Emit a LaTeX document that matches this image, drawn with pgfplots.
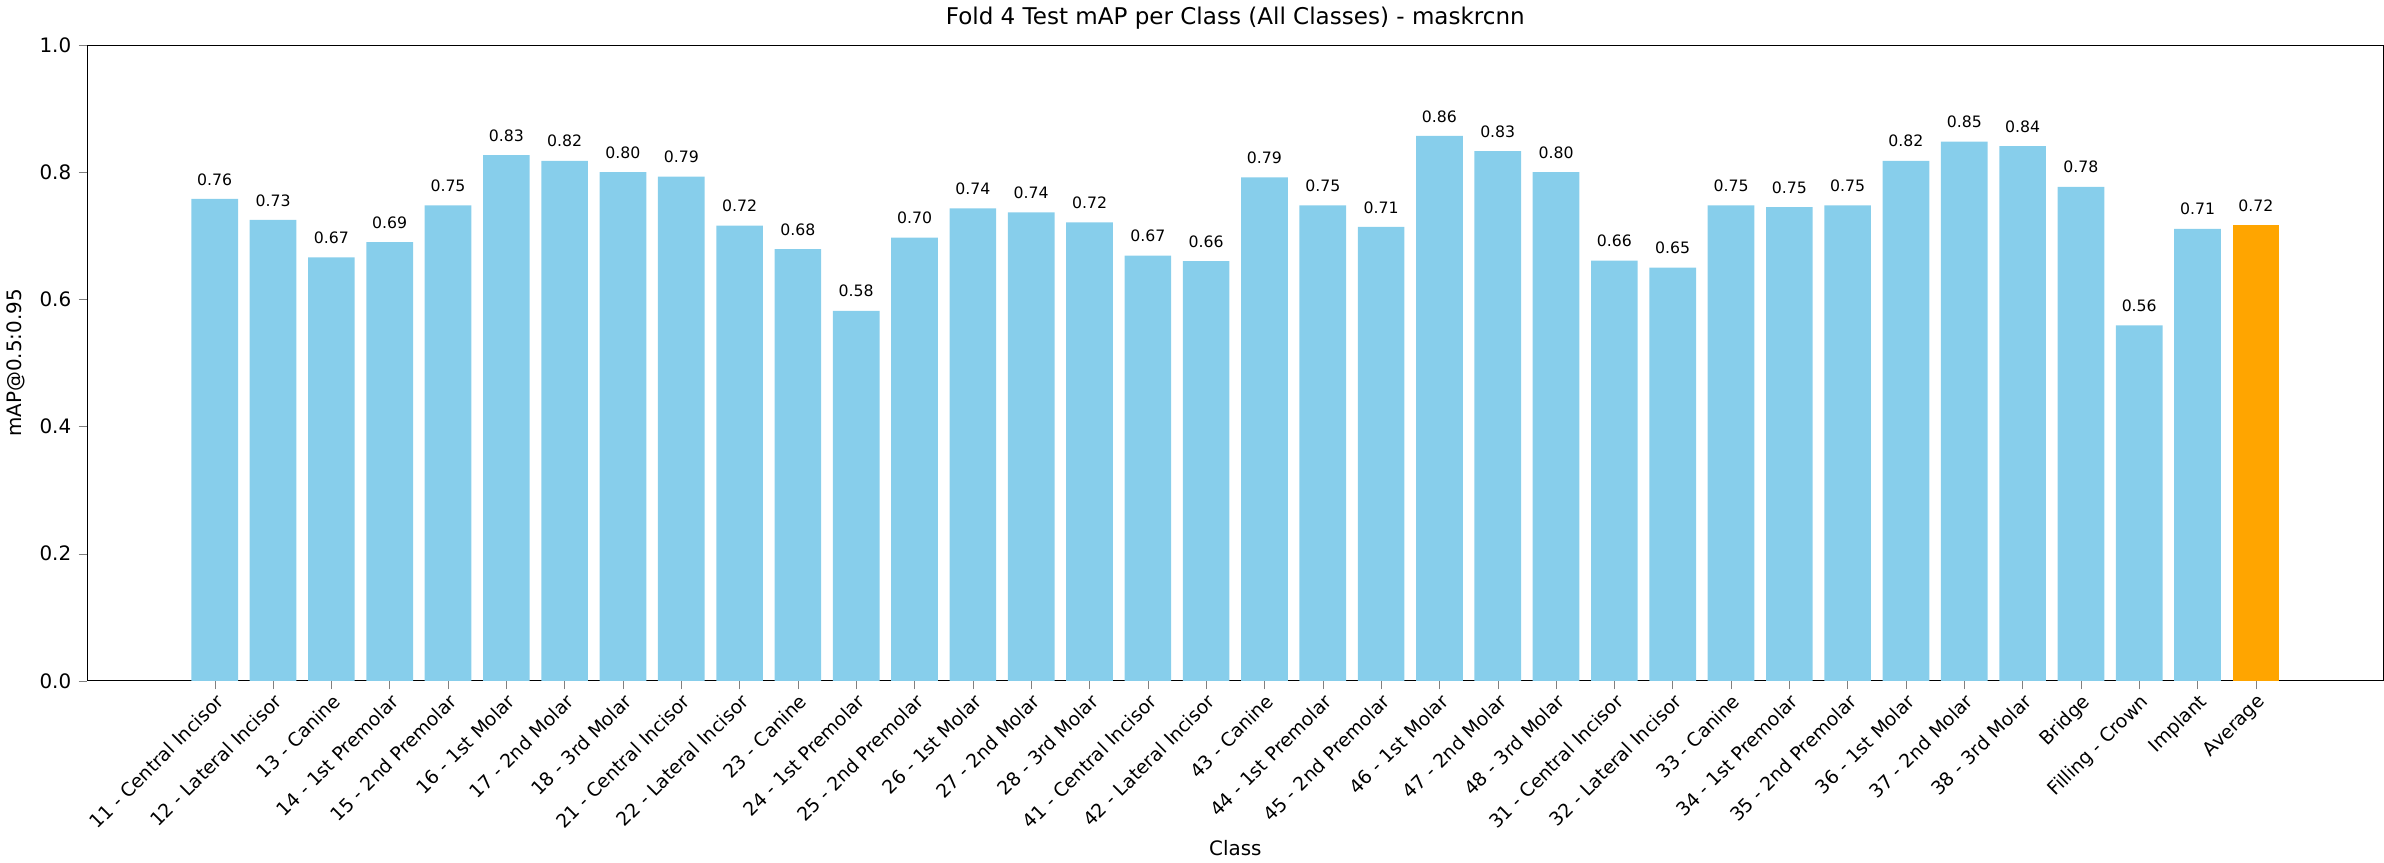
\documentclass[border=0pt]{standalone}
\usepackage{pgfplots}
\pgfplotsset{compat=1.18}
\usepackage{pgfplotstable}
\usepackage{fontspec}
\setmainfont{DejaVu Sans}
\definecolor{sky}{HTML}{87CEEB}
\definecolor{orng}{HTML}{FFA500}
\pgfplotstableread{
x y
0 0.758
1 0.725
2 0.666
3 0.690
4 0.748
5 0.827
6 0.818
7 0.800
8 0.793
9 0.716
10 0.679
11 0.582
12 0.697
13 0.743
14 0.737
15 0.721
16 0.669
17 0.660
18 0.792
19 0.748
20 0.714
21 0.857
22 0.833
23 0.800
24 0.661
25 0.650
26 0.748
27 0.745
28 0.748
29 0.818
30 0.848
31 0.841
32 0.777
33 0.559
34 0.711
}\data
\pgfplotstableread{
x y
35 0.717
}\avg
\begin{document}
\begin{tikzpicture}
\begin{axis}[
  scale only axis, width=15.17in, height=4.2in,
  xmin=-2.19, xmax=37.19, ymin=0, ymax=1,
  ytick={0,0.2,0.4,0.6,0.8,1.0},
  yticklabels={0.0,0.2,0.4,0.6,0.8,1.0},
  xtick={0,...,35},
  xticklabels={11 - Central Incisor,12 - Lateral Incisor,13 - Canine,14 - 1st Premolar,15 - 2nd Premolar,16 - 1st Molar,17 - 2nd Molar,18 - 3rd Molar,21 - Central Incisor,22 - Lateral Incisor,23 - Canine,24 - 1st Premolar,25 - 2nd Premolar,26 - 1st Molar,27 - 2nd Molar,28 - 3rd Molar,41 - Central Incisor,42 - Lateral Incisor,43 - Canine,44 - 1st Premolar,45 - 2nd Premolar,46 - 1st Molar,47 - 2nd Molar,48 - 3rd Molar,31 - Central Incisor,32 - Lateral Incisor,33 - Canine,34 - 1st Premolar,35 - 2nd Premolar,36 - 1st Molar,37 - 2nd Molar,38 - 3rd Molar,Bridge,Filling - Crown,Implant,Average},
  x tick label style={rotate=45, anchor=north east, font=\fontsize{9}{11}\selectfont, inner sep=1pt},
  y tick label style={font=\fontsize{9.5}{11}\selectfont},
  /pgf/number format/assume math mode=true,
  tick align=outside, tick pos=left,
  major tick length=4pt,
  xlabel={Class}, ylabel={mAP@0.5:0.95},
  label style={font=\fontsize{9.5}{11}\selectfont},
  title={Fold 4 Test mAP per Class (All Classes) - maskrcnn},
  title style={font=\fontsize{11}{13}\selectfont, yshift=-2pt},
  ybar, bar width=0.8, bar shift=0pt,
  nodes near coords,
  nodes near coords style={font=\fontsize{7.5}{9}\selectfont, /pgf/number format/fixed, /pgf/number format/fixed zerofill, /pgf/number format/precision=2, yshift=3pt},
]
\addplot[fill=sky, draw=none] table[x=x,y=y]{\data};
\addplot[fill=orng, draw=none] table[x=x,y=y]{\avg};
\end{axis}
\end{tikzpicture}
\end{document}
